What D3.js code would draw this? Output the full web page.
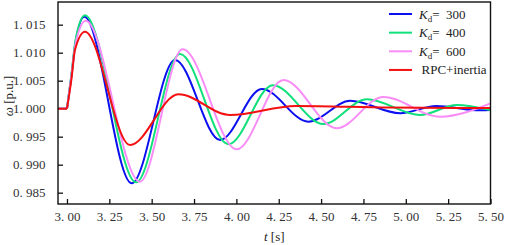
<!DOCTYPE html>
<html>
<head>
<meta charset="utf-8">
<script src="https://cdn.jsdelivr.net/npm/d3@7"></script>
<style>
  body { margin: 0; background: #fff; }
</style>
</head>
<body>
<div id="chart"></div>
<script>
// flat pre-disturbance part, shared by all curves
const preT = [2.947, 3.0]
const preW = [1.0, 1.0]

// Kd = 300
const t300 = [3.0, 3.028, 3.05, 3.102, 3.382, 3.638, 3.904, 4.15, 4.425, 4.672, 4.967, 5.18, 5.44, 5.5]
const w300 = [1.0, 1.0063, 1.0118, 1.0164, 0.98668, 1.0087, 0.99441, 1.00352, 0.99768, 1.0014, 0.99918, 1.00048, 0.9997, 0.99975]
// Kd = 400
const t400 = [3.0, 3.028, 3.05, 3.106, 3.408, 3.667, 3.953, 4.215, 4.514, 4.77, 5.085, 5.3, 5.5]
const w400 = [1.0, 1.0065, 1.0122, 1.0167, 0.98686, 1.00977, 0.99364, 1.0042, 0.99727, 1.0017, 0.99888, 1.00066, 0.99975]
// Kd = 600
const t600 = [3.0, 3.028, 3.05, 3.11, 3.43, 3.683, 4.002, 4.278, 4.593, 4.867, 5.203, 5.5]
const w600 = [1.0, 1.0062, 1.0115, 1.0157, 0.98697, 1.0106, 0.99275, 1.00513, 0.9965, 1.0021, 0.99857, 1.00096]
// RPC + inertia
const tRpc = [3.0, 3.028, 3.047, 3.106, 3.372, 3.658, 3.963, 4.35, 4.9, 5.5]
const wRpc = [1.0, 1.0057, 1.0105, 1.01375, 0.99352, 1.00257, 0.99887, 1.0005, 1.0002, 1.0001]

const legendNames = ["300", "400", "600", "RPC+inertia"]
const colors = ["#0a10f0", "#10e07a", "#fa8cf8", "#f21010"]

const xTicks = [3.0, 3.25, 3.5, 3.75, 4.0, 4.25, 4.5, 4.75, 5.0, 5.25, 5.5]
const yTicks = [0.985, 0.99, 0.995, 1.0, 1.005, 1.01, 1.015]

const W = 505, H = 245
const LEFT = 58, RIGHT = 490.5, TOP = 2, BOTTOM = 204
const FONT = '"Liberation Serif"'

const svg = d3.select("#chart").append("svg")
    .attr("width", W)
    .attr("height", H)

const x = d3.scaleLinear().domain([2.947, 5.5]).range([LEFT, RIGHT])
const y = d3.scaleLinear().domain([0.98298, 1.01905]).range([BOTTOM, TOP])

const fmt = f => v => d3.format(f)(v).replace(".", ". ")

// axes, ticks pointing inward
svg.append("g")
    .attr("transform", "translate(0," + BOTTOM + ")")
    .call(d3.axisBottom(x).tickValues(xTicks).tickFormat(fmt(".2f")).tickSize(-5).tickPadding(8))
svg.append("g")
    .attr("transform", "translate(" + LEFT + ",0)")
    .call(d3.axisLeft(y).tickValues(yTicks).tickFormat(fmt(".3f")).tickSize(-5).tickPadding(12.5))

svg.selectAll(".domain").remove()
svg.selectAll(".tick line").attr("stroke", "#111").attr("stroke-width", 1.3)
svg.selectAll(".tick text").attr("fill", "#333").attr("font-size", 13)

// curves
const series = [[t300, w300], [t400, w400], [t600, w600], [tRpc, wRpc]]
const line = d3.line().x(d => x(d[0])).y(d => y(d[1])).curve(d3.curveMonotoneX)
const flat = d3.line().x(d => x(d[0])).y(d => y(d[1]))

const plot = svg.append("g")
series.forEach((s, i) => {
    const pts = d3.zip(s[0], s[1])
    plot.append("path")
        .attr("d", flat(d3.zip(preT, preW)))
        .attr("fill", "none").attr("stroke", colors[i]).attr("stroke-width", 2)
    plot.append("path")
        .attr("d", line(pts))
        .attr("fill", "none")
        .attr("stroke", colors[i])
        .attr("stroke-width", 2)
})

// frame
svg.append("rect")
    .attr("x", LEFT).attr("y", TOP)
    .attr("width", RIGHT - LEFT).attr("height", BOTTOM - TOP)
    .attr("fill", "none").attr("stroke", "#111").attr("stroke-width", 1.4)

// legend
const lg = svg.append("g")
legendNames.forEach((name, i) => {
    const ly = 14 + i * 18.65
    lg.append("line")
        .attr("x1", 389).attr("x2", 412).attr("y1", ly).attr("y2", ly)
        .attr("stroke", colors[i]).attr("stroke-width", 2)
    const t = lg.append("text").attr("x", 419).attr("y", ly + 4.5)
        .attr("font-size", 13).attr("fill", "#222")
    if (i < 3) {
        t.append("tspan").attr("font-style", "italic").text("K")
        t.append("tspan").attr("dy", 3).attr("font-size", 9).text("d")
        t.append("tspan").attr("dy", -3).text("=\u00a0 " + name)
    } else {
        t.attr("x", 421.5).text(name)
    }
})

// axis titles
const yt = svg.append("text")
    .attr("transform", "translate(13,96) rotate(-90)")
    .attr("text-anchor", "middle")
    .attr("font-size", 13).attr("fill", "#222")
yt.append("tspan").attr("font-style", "italic").text("ω")
yt.append("tspan").text(" [p.u.]")

const xt = svg.append("text")
    .attr("x", (LEFT + RIGHT) / 2).attr("y", 241)
    .attr("text-anchor", "middle")
    .attr("font-size", 13).attr("fill", "#222")
xt.append("tspan").attr("font-style", "italic").text("t")
xt.append("tspan").text(" [s]")

// serif everywhere, set on each text node
svg.selectAll("text").attr("font-family", FONT)
</script>
</body>
</html>
